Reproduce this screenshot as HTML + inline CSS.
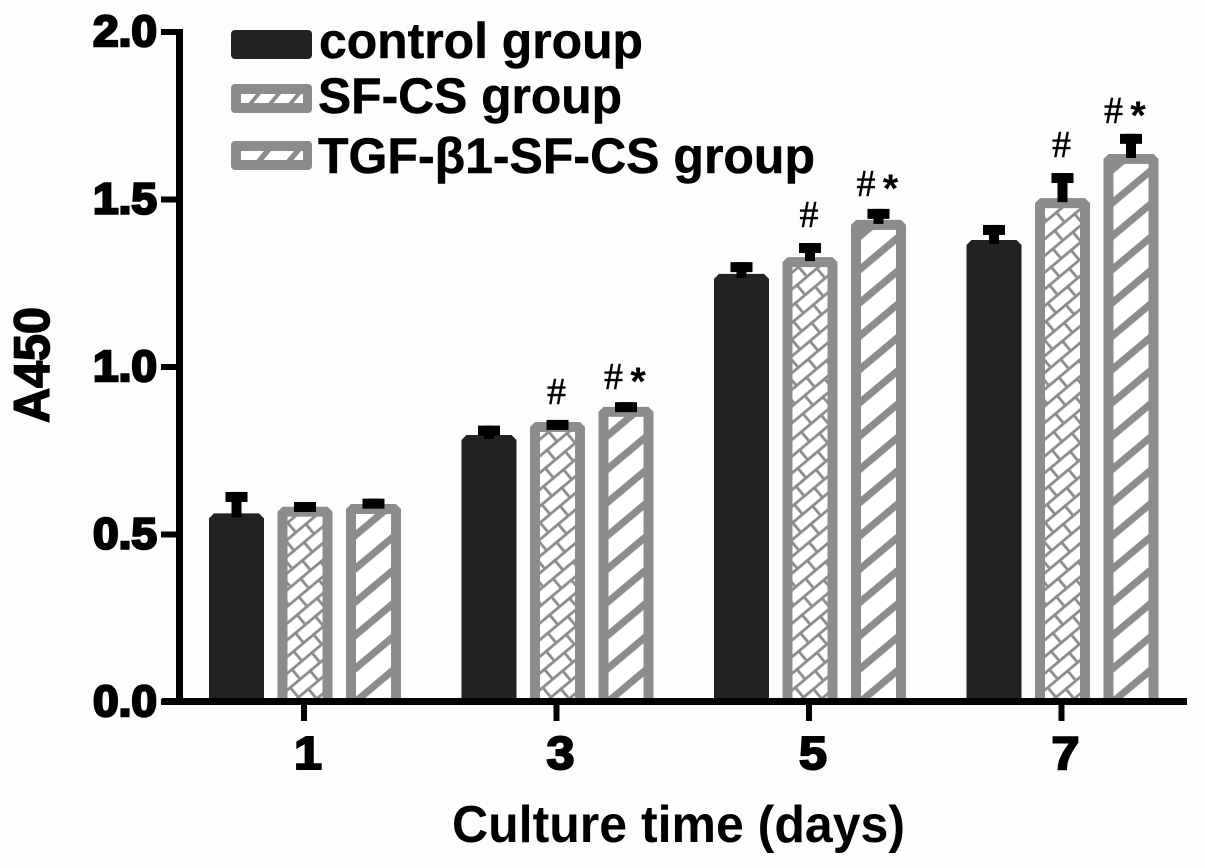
<!DOCTYPE html>
<html lang="en">
<head>
<meta charset="utf-8">
<title>A450 by culture time</title>
<style>
html,body{margin:0;padding:0;background:#fdfdfd;}
svg{display:block;}
text{font-family:"Liberation Sans",sans-serif;font-weight:bold;fill:#000;}
</style>
</head>
<body>
<svg id="chart" xmlns="http://www.w3.org/2000/svg" width="1205" height="868" viewBox="0 0 1205 868">
  <defs>
    <pattern id="brick" patternUnits="userSpaceOnUse" width="26" height="25.6" patternTransform="rotate(-40)">
      <rect width="26" height="25.6" fill="#fff"/>
      <rect x="0" y="9.3" width="26" height="2.8" fill="#8c8c8c"/>
      <rect x="0" y="22.1" width="26" height="2.8" fill="#8c8c8c"/>
      <rect x="4" y="9.3" width="2.8" height="12.8" fill="#8c8c8c"/>
      <rect x="17" y="22.1" width="2.8" height="3.5" fill="#8c8c8c"/>
      <rect x="17" y="0" width="2.8" height="9.3" fill="#8c8c8c"/>
    </pattern>
    <pattern id="stripe" patternUnits="userSpaceOnUse" width="40" height="25.5" patternTransform="rotate(-40)">
      <rect width="40" height="25.5" fill="#fff"/>
      <rect x="0" y="3" width="40" height="7.2" fill="#8c8c8c"/>
    </pattern>
    <pattern id="legend-fine" patternUnits="userSpaceOnUse" width="20" height="9" patternTransform="translate(241,94) skewX(-40)">
      <rect width="20" height="9" fill="#fff"/>
      <rect x="15" y="0" width="5" height="9" fill="#8c8c8c"/>
    </pattern>
    <pattern id="legend-wide" patternUnits="userSpaceOnUse" width="30" height="9" patternTransform="translate(241,151) skewX(-40)">
      <rect width="30" height="9" fill="#fff"/>
      <rect x="23" y="0" width="7" height="9" fill="#8c8c8c"/>
    </pattern>
  </defs>
  <rect x="0" y="0" width="1205" height="868" fill="#fdfdfd"/>
  <g id="bars"></g>
  <g id="axes"></g>
  <g id="annotations"></g>

  <text transform="translate(49,423) rotate(-90)" font-size="50" textLength="116" lengthAdjust="spacingAndGlyphs" stroke="#000" stroke-width="1.6">A450</text>
  <text x="452" y="842" font-size="52" textLength="453" lengthAdjust="spacingAndGlyphs">Culture time (days)</text>

  <g>
    <g>
      <rect x="231" y="30" width="81" height="29" rx="4" fill="#222"/>
      <text x="319" y="58" font-size="50" textLength="324" lengthAdjust="spacingAndGlyphs" stroke="#000" stroke-width="0.5">control group</text>
    </g>
    <g>
      <rect x="231" y="84" width="81" height="29" rx="4" fill="#8c8c8c"/>
      <rect x="241" y="94" width="62" height="9" fill="url(#legend-fine)"/>
      <text x="318" y="113" font-size="50" textLength="304" lengthAdjust="spacingAndGlyphs" stroke="#000" stroke-width="0.5">SF-CS group</text>
    </g>
    <g>
      <rect x="231" y="141" width="81" height="29" rx="4" fill="#8c8c8c"/>
      <rect x="241" y="151" width="62" height="9" fill="url(#legend-wide)"/>
      <text x="318" y="173" font-size="50" textLength="497" lengthAdjust="spacingAndGlyphs" stroke="#000" stroke-width="0.5">TGF-β1-SF-CS group</text>
    </g>
  </g>
</svg>
<script>
var days = ["1", "3", "5", "7"];
var yTickValues = [0, 0.5, 1.0, 1.5, 2.0];
var yTickLabels = ["0.0", "0.5", "1.0", "1.5", "2.0"];
var controlValues = [0.563, 0.797, 1.278, 1.379];
var sfcsValues = [0.583, 0.836, 1.328, 1.504];
var tgfValues = [0.591, 0.881, 1.439, 1.636];
var controlErrors = [0.064, 0.028, 0.035, 0.045];
var sfcsErrors = [0.014, 0.006, 0.042, 0.075];
var tgfErrors = [0.016, 0.014, 0.033, 0.06];
var sfcsMarks = ["", "#", "#", "#"];
var tgfMarks = ["", "#*", "#*", "#*"];

var NS = "http://www.w3.org/2000/svg";
function yScale(v) { return 702 - 335 * v; }
function groupLeft(i) { return 209 + 252.5 * i; }
function barLeft(i, j) { return groupLeft(i) + 68.5 * j; }
function groupTick(i) { return groupLeft(i) + 95; }
function make(tag, parent) {
  var el = document.createElementNS(NS, tag);
  parent.appendChild(el);
  return el;
}
function setAll(el, props) {
  for (var k in props) { el.setAttribute(k, props[k]); }
}

var barsG = document.getElementById("bars");
var axesG = document.getElementById("axes");
var annG = document.getElementById("annotations");
var seriesNames = ["control", "sf-cs", "tgf"];
var seriesValues = [controlValues, sfcsValues, tgfValues];
var seriesErrors = [controlErrors, sfcsErrors, tgfErrors];
var seriesFill = [null, "url(#brick)", "url(#stripe)"];
var barW = 55, bottom = 701, chamfer = 5;

days.forEach(function (d, i) {
  seriesNames.forEach(function (name, j) {
    var v = seriesValues[j][i];
    var x = barLeft(i, j);
    var y = yScale(v);
    var errY = yScale(v + seriesErrors[j][i]);

    var bar = make("polygon", barsG);
    
    
    bar.setAttribute("points",
      x + "," + bottom + " " + x + "," + (y + chamfer) + " " + (x + chamfer) + "," + y + " " +
      (x + barW - chamfer) + "," + y + " " + (x + barW) + "," + (y + chamfer) + " " + (x + barW) + "," + bottom);
    bar.setAttribute("fill", j === 0 ? "#222" : "#8c8c8c");

    if (seriesFill[j]) {
      var hatchGroup = make("g", barsG);
      
      
      hatchGroup.setAttribute("transform", "translate(" + x + "," + bottom + ")");
      var inner = make("rect", hatchGroup);
      
      
      setAll(inner, { x: 10, y: y + 10 - bottom, width: barW - 20, height: bottom - y - 10, fill: seriesFill[j] });
    }

    var stem = make("rect", barsG);
    
    
    setAll(stem, { x: x + barW / 2 - 5, y: errY, width: 10, height: Math.max(y + 4 - errY, 0), fill: "#000" });

    var cap = make("rect", barsG);
    
    
    setAll(cap, { x: x + barW / 2 - 11, y: errY, width: 22, height: 10, fill: "#000" });
  });

  [[1, sfcsMarks[i]], [2, tgfMarks[i]]].forEach(function (pair) {
    var j = pair[0], mark = pair[1];
    if (!mark) { return; }
    var v = seriesValues[j][i];
    var errY = yScale(v + seriesErrors[j][i]);
    var x = barLeft(i, j);
    var lastGroup = i === days.length - 1;
    var nudge = lastGroup ? -5 : 0;
    var hash = make("text", annG);
    
    
    var hashX = mark.length > 1 ? x + 15 + nudge : x + 26.5;
    var base = errY - (mark.length > 1 ? (lastGroup ? 11 : 13) : 16);
    setAll(hash, { x: hashX, y: base, "font-size": 38, "text-anchor": "middle", stroke: "#000", "stroke-width": 0.5 });
    hash.style.fontFamily = '"Liberation Serif",serif';
    hash.style.fontWeight = "normal";
    hash.textContent = "#";
    if (mark.length > 1) {
      var star = make("text", annG);
      
      
      setAll(star, { x: x + 39.5 + nudge, y: base + 6, "font-size": 40, "text-anchor": "middle" });
      star.textContent = "*";
    }
  });
});

var yLine = make("rect", axesG);


setAll(yLine, { x: 176, y: yScale(2) - 3, width: 7, height: yScale(0) - yScale(2) + 6, fill: "#000" });

var xLine = make("rect", axesG);


setAll(xLine, { x: 162, y: 698, width: 1025, height: 7, fill: "#000" });

yTickValues.forEach(function (v, i) {
  var t = make("rect", axesG);
  
  
  setAll(t, { x: 161, y: yScale(v) - 3, width: 16, height: 6, fill: "#000" });
  var lab = make("text", axesG);
  
  
  setAll(lab, { x: 93, y: yScale(v) + 14, "font-size": 44, textLength: 64, lengthAdjust: "spacingAndGlyphs", stroke: "#000", "stroke-width": 2.5 });
  lab.textContent = yTickLabels[i];
});

days.forEach(function (d, i) {
  var t = make("rect", axesG);
  
  
  setAll(t, { x: groupTick(i) - 3, y: 704, width: 6, height: 17, fill: "#000" });
  var lab = make("text", axesG);
  
  
  setAll(lab, { x: groupTick(i) + 4, y: 769, "font-size": 46, "text-anchor": "middle", textLength: 28, lengthAdjust: "spacingAndGlyphs", stroke: "#000", "stroke-width": 2 });
  lab.textContent = d;
});
</script>
</body>
</html>
